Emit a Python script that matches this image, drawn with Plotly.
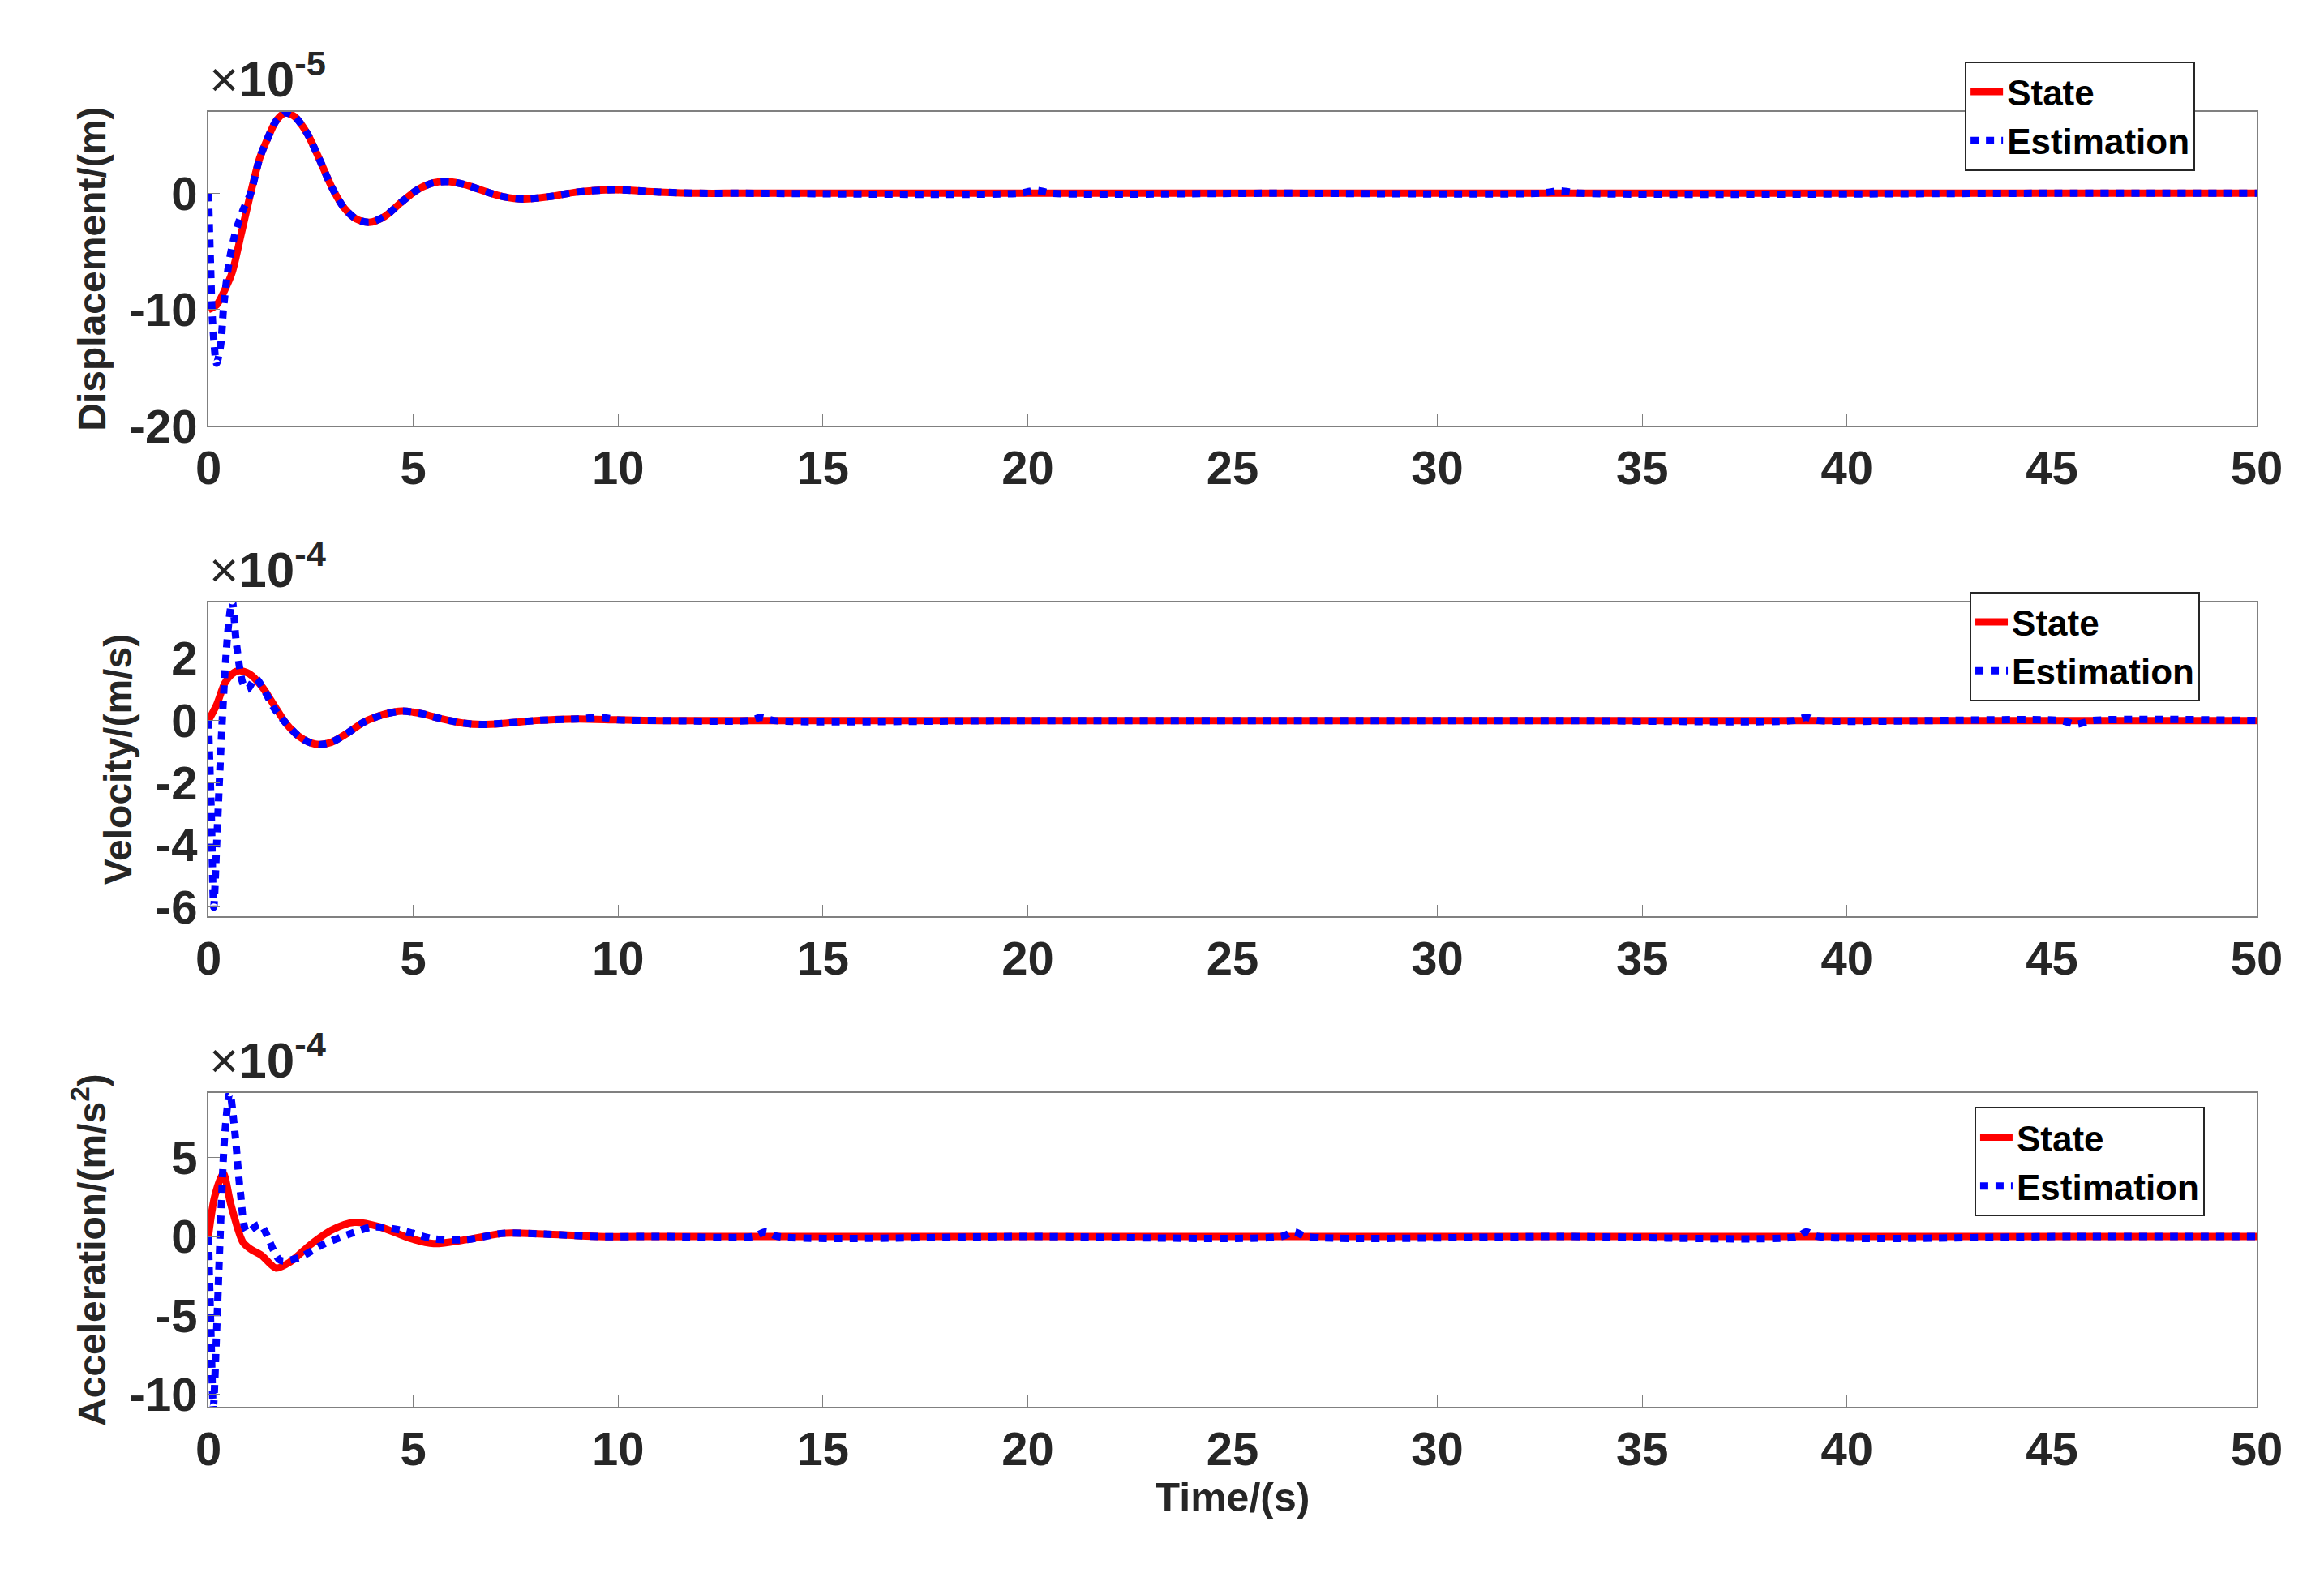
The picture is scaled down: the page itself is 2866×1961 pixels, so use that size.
import plotly.graph_objects as go

# displacement (x1e-5 m)
t_disp_state = [0, 0.2, 0.4, 0.58, 0.8, 1.03, 1.25, 1.42, 1.65, 1.87, 2.1, 2.4, 2.7, 3.0, 3.3, 3.6, 3.92, 4.3, 4.7, 5.1, 5.5, 5.87, 6.3, 6.8, 7.2, 7.7, 8.3, 9.0, 9.9, 11, 12, 13, 20, 26.5, 33, 39, 45.5, 50]
disp_state = [-10, -9.6, -8.3, -6.8, -3.5, 0, 3.0, 4.5, 6.2, 6.9, 6.6, 5.2, 3.0, 0.6, -1.2, -2.2, -2.5, -2.0, -0.8, 0.3, 0.9, 1.0, 0.7, 0.1, -0.3, -0.5, -0.3, 0.1, 0.3, 0.1, 0, 0, 0, 0, 0, 0, 0, 0]
t_disp_est = [0, 0.05, 0.1, 0.2, 0.3, 0.37, 0.5, 0.65, 0.85, 1.03, 1.25, 1.42, 1.65, 1.87, 2.1, 2.4, 2.7, 3.0, 3.3, 3.6, 3.92, 4.3, 4.7, 5.1, 5.5, 5.87, 6.3, 6.8, 7.2, 7.7, 8.3, 9.0, 9.9, 11, 12, 13, 19.8, 20.2, 20.6, 26, 32.5, 33, 33.5, 45, 50]
disp_est = [0, -6, -11, -14.6, -13, -9.8, -6, -3.5, -1.4, 0, 3.0, 4.5, 6.2, 6.9, 6.6, 5.2, 3.0, 0.6, -1.2, -2.2, -2.5, -2.0, -0.8, 0.3, 0.9, 1.0, 0.7, 0.1, -0.3, -0.5, -0.3, 0.1, 0.3, 0.1, 0, 0, 0, 0.25, 0, 0, 0, 0.2, 0, 0, 0]

# velocity (x1e-4 m/s)
t_vel_state = [0, 0.2, 0.4, 0.58, 0.75, 1.0, 1.3, 1.6, 1.9, 2.2, 2.5, 2.72, 3.0, 3.4, 3.8, 4.3, 4.73, 5.2, 5.7, 6.2, 6.68, 7.3, 8.0, 9.0, 10, 11, 13.5, 20, 26.5, 33, 39, 45.5, 50]
vel_state = [0, 0.5, 1.2, 1.5, 1.6, 1.5, 1.1, 0.5, -0.1, -0.5, -0.72, -0.77, -0.7, -0.4, -0.05, 0.2, 0.3, 0.22, 0.05, -0.08, -0.13, -0.08, 0, 0.05, 0.02, 0, 0, 0, 0, 0, 0, 0, 0]
t_vel_est = [0, 0.07, 0.13, 0.2, 0.3, 0.4, 0.5, 0.58, 0.68, 0.84, 0.95, 1.15, 1.35, 1.6, 1.9, 2.2, 2.5, 2.72, 3.0, 3.4, 3.8, 4.3, 4.73, 5.2, 5.7, 6.2, 6.68, 7.3, 8.0, 9.0, 9.6, 10, 11, 13.2, 13.5, 13.8, 20, 26.5, 33, 38.7, 39, 39.3, 45.2, 45.6, 46.0, 50]
vel_est = [0, -3, -6, -4, -1, 1.5, 3.2, 3.85, 2.5, 1.2, 1.0, 1.35, 1.0, 0.4, -0.1, -0.5, -0.72, -0.77, -0.7, -0.4, -0.05, 0.2, 0.3, 0.22, 0.05, -0.08, -0.13, -0.08, 0, 0.05, 0.1, 0.02, 0, 0, 0.1, 0, 0, 0, 0, 0, 0.1, 0, 0, -0.12, 0, 0]

# acceleration (x1e-4 m/s^2)
t_acc_state = [0, 0.15, 0.36, 0.55, 0.84, 1.03, 1.3, 1.65, 2.0, 2.5, 3.0, 3.57, 4.2, 4.9, 5.5, 6.3, 7.2, 8.2, 9.5, 11, 13.5, 20, 26.5, 33, 39, 45.5, 50]
acc_state = [0, 2.5, 4.0, 2.0, -0.35, -0.8, -1.2, -2.0, -1.6, -0.5, 0.4, 0.9, 0.6, -0.1, -0.45, -0.2, 0.2, 0.15, 0, 0, 0, 0, 0, 0, 0, 0, 0]
t_acc_est = [0, 0.06, 0.12, 0.2, 0.3, 0.4, 0.52, 0.65, 0.78, 0.94, 1.26, 1.75, 2.2, 2.8, 3.5, 4.0, 4.7, 5.5, 6.3, 7.2, 8.2, 9.5, 11, 13.3, 13.6, 13.9, 20, 26.2, 26.5, 26.8, 33, 38.8, 39.0, 39.3, 45.5, 50]
acc_est = [0, -6, -10.8, -6, 1, 6.5, 9.1, 6.5, 2.8, 0.3, 0.75, -1.5, -1.35, -0.5, 0.2, 0.6, 0.4, -0.15, -0.2, 0.2, 0.15, 0, 0, 0, 0.3, 0, 0, 0, 0.3, 0, 0, 0, 0.3, 0, 0, 0]

x_ticks = list(range(0, 51, 5))

font_family = "Liberation Sans, Arial, sans-serif"
red = "#ff0000"
blue = "#0000ff"

panels = [
	("Displacement/(m)", t_disp_state, disp_state, t_disp_est, disp_est, [-20, 7], [-20, -10, 0], "-5"),
	("Velocity/(m/s)", t_vel_state, vel_state, t_vel_est, vel_est, [-6.3, 3.8], [-6, -4, -2, 0, 2], "-4"),
	("Acceleration/(m/s<sup>2</sup>)", t_acc_state, acc_state, t_acc_est, acc_est, [-10.8, 9.1], [-10, -5, 0, 5], "-4"),
]

# pixel boxes of the three axes in the 2866x1961 page
W, H = 2866, 1961
x_dom = [237 / W, 2806 / W]
y_boxes = [(132, 526), (747, 1141), (1362, 1756)]
legend_pos = [(2440, 69), (2446, 734), (2452, 1380)]

fig = go.Figure()
layout = dict(
	width=W, height=H,
	margin=dict(l=0, r=0, t=0, b=0),
	paper_bgcolor="white", plot_bgcolor="white",
	font=dict(family=font_family, size=56, color="#262626"),
)
annotations = []

for i, (title, ts, ys, te, ye, yr, yt, expo) in enumerate(panels):
	n = "" if i == 0 else str(i + 1)
	leg = "legend" + n
	fig.add_trace(go.Scatter(
		x=ts, y=ys, name="<b>State</b>", mode="lines", line_shape="spline",
		line=dict(color=red, width=9, smoothing=0.8), xaxis="x" + n, yaxis="y" + n, legend=leg,
	))
	fig.add_trace(go.Scatter(
		x=te, y=ye, name="<b>Estimation</b>", mode="lines", line_shape="spline",
		line=dict(color=blue, width=9, dash="10px,9px", smoothing=0.8), xaxis="x" + n, yaxis="y" + n, legend=leg,
	))
	top, bot = y_boxes[i]
	axis_common = dict(
		showline=True, mirror=True, linecolor="#808080", linewidth=2,
		ticks="inside", ticklen=14, tickcolor="#808080", showgrid=False, zeroline=False,
		tickfont=dict(size=58, family=font_family, color="#262626", weight="bold"),
	)
	layout["xaxis" + n] = dict(
		domain=x_dom, anchor="y" + n, range=[0, 50], tickvals=x_ticks,
		ticktext=[str(v) for v in x_ticks],
		title=dict(text="<b>Time/(s)</b>", font=dict(size=50), standoff=10) if i == 2 else None,
		**axis_common,
	)
	layout["yaxis" + n] = dict(
		domain=[1 - bot / H, 1 - top / H], anchor="x" + n, range=yr, tickvals=yt,
		ticktext=[str(v) for v in yt],
		title=dict(text="<b>" + title + "</b>", font=dict(size=48), standoff=14),
		**axis_common,
	)
	lx, ly = legend_pos[i]
	layout[leg] = dict(
		x=lx / W, y=1 - ly / H, xanchor="left", yanchor="top",
		bgcolor="white", bordercolor="#262626", borderwidth=2,
		font=dict(size=44, family=font_family, color="#000000"),
		itemwidth=40, tracegroupgap=0,
	)
	annotations.append(dict(
		x=236 / W, y=1 - (top - 4) / H, xref="paper", yref="paper",
		xanchor="left", yanchor="bottom", showarrow=False,
		text="×<b>10<sup>" + expo + "</sup></b>", font=dict(size=62, color="#262626"),
	))

layout["annotations"] = annotations
fig.update_layout(**layout)
fig.write_html("out.html")
